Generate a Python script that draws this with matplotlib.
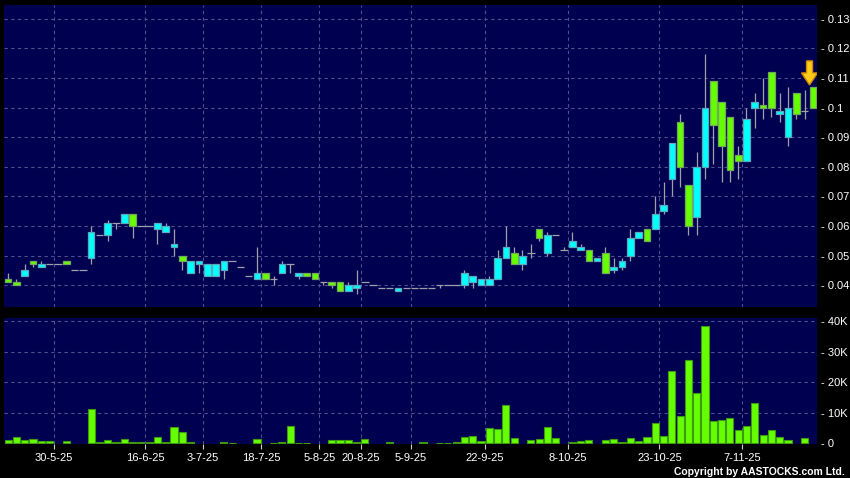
import matplotlib
matplotlib.use("Agg")
import matplotlib.pyplot as plt
import numpy as np
from matplotlib.patches import Polygon

plt.rcParams['font.family'] = ['Liberation Sans', 'DejaVu Sans']

# ---------------- data ----------------
opens = [0.042, 0.041, 0.043, 0.048, 0.046, 0.047, 0.047, 0.048, 0.045, 0.045,
         0.049, 0.057, 0.057, 0.061, 0.061, 0.064, 0.060, 0.060, 0.059, 0.058,
         0.053, 0.050, 0.044, 0.047, 0.043, 0.043, 0.045, 0.048, 0.046, 0.043,
         0.042, 0.044, 0.042, 0.044, 0.047, 0.043, 0.044, 0.044, 0.041, 0.041,
         0.041, 0.038, 0.039, 0.041, 0.040, 0.039, 0.039, 0.038, 0.039, 0.039,
         0.039, 0.039, 0.040, 0.040, 0.040, 0.040, 0.041, 0.040, 0.040, 0.042,
         0.049, 0.051, 0.047, 0.051, 0.059, 0.051, 0.057, 0.052, 0.053, 0.052,
         0.052, 0.048, 0.051, 0.045, 0.046, 0.050, 0.056, 0.059, 0.059, 0.065,
         0.076, 0.095, 0.074, 0.063, 0.080, 0.109, 0.102, 0.097, 0.084, 0.082,
         0.100, 0.101, 0.112, 0.098, 0.090, 0.105, 0.099, 0.107]
highs = [0.044, 0.042, 0.047, 0.048, 0.048, 0.047, 0.047, 0.048, 0.045, 0.045,
         0.060, 0.057, 0.062, 0.061, 0.064, 0.064, 0.060, 0.060, 0.061, 0.061,
         0.059, 0.050, 0.048, 0.048, 0.047, 0.047, 0.048, 0.048, 0.046, 0.043,
         0.053, 0.044, 0.043, 0.048, 0.047, 0.044, 0.044, 0.044, 0.041, 0.041,
         0.041, 0.041, 0.045, 0.041, 0.040, 0.039, 0.039, 0.039, 0.039, 0.039,
         0.039, 0.039, 0.040, 0.040, 0.040, 0.045, 0.043, 0.042, 0.043, 0.052,
         0.060, 0.053, 0.052, 0.054, 0.059, 0.058, 0.057, 0.053, 0.058, 0.054,
         0.052, 0.049, 0.053, 0.049, 0.049, 0.059, 0.058, 0.059, 0.070, 0.075,
         0.088, 0.098, 0.074, 0.085, 0.118, 0.109, 0.102, 0.097, 0.087, 0.100,
         0.105, 0.110, 0.112, 0.105, 0.107, 0.105, 0.106, 0.107]
lows = [0.041, 0.040, 0.043, 0.046, 0.046, 0.047, 0.047, 0.047, 0.045, 0.045,
        0.047, 0.057, 0.055, 0.059, 0.061, 0.056, 0.060, 0.060, 0.054, 0.058,
        0.050, 0.045, 0.044, 0.044, 0.043, 0.043, 0.042, 0.048, 0.046, 0.043,
        0.042, 0.042, 0.040, 0.044, 0.044, 0.042, 0.043, 0.042, 0.040, 0.039,
        0.038, 0.038, 0.037, 0.041, 0.040, 0.039, 0.039, 0.038, 0.039, 0.039,
        0.039, 0.039, 0.039, 0.040, 0.040, 0.039, 0.039, 0.040, 0.040, 0.042,
        0.049, 0.047, 0.045, 0.049, 0.055, 0.050, 0.057, 0.052, 0.053, 0.052,
        0.048, 0.048, 0.044, 0.044, 0.045, 0.048, 0.056, 0.055, 0.059, 0.064,
        0.070, 0.073, 0.057, 0.057, 0.076, 0.081, 0.075, 0.075, 0.076, 0.082,
        0.093, 0.096, 0.097, 0.095, 0.087, 0.096, 0.096, 0.100]
closes = [0.041, 0.040, 0.045, 0.047, 0.047, 0.047, 0.047, 0.047, 0.045, 0.045,
          0.058, 0.057, 0.061, 0.061, 0.064, 0.060, 0.060, 0.060, 0.061, 0.060,
          0.054, 0.048, 0.048, 0.048, 0.047, 0.047, 0.048, 0.048, 0.046, 0.043,
          0.044, 0.042, 0.042, 0.047, 0.047, 0.044, 0.043, 0.042, 0.041, 0.040,
          0.038, 0.040, 0.040, 0.041, 0.040, 0.039, 0.039, 0.039, 0.039, 0.039,
          0.039, 0.039, 0.040, 0.040, 0.040, 0.044, 0.043, 0.042, 0.042, 0.049,
          0.053, 0.047, 0.050, 0.051, 0.056, 0.057, 0.057, 0.052, 0.055, 0.053,
          0.048, 0.049, 0.044, 0.046, 0.048, 0.056, 0.058, 0.055, 0.064, 0.067,
          0.088, 0.080, 0.060, 0.080, 0.100, 0.094, 0.087, 0.079, 0.082, 0.096,
          0.102, 0.100, 0.100, 0.099, 0.100, 0.098, 0.099, 0.100]
volumes_k = [0.9, 2.1, 1.0, 1.3, 0.65, 0.65, 0, 0.65, 0, 0,
             11.3, 0.3, 1.1, 0.55, 1.4, 0.3, 0.3, 0.3, 2.1, 0.55,
             5.2, 3.6, 0.3, 0, 0, 0, 0.3, 0.2, 0, 0,
             1.4, 0, 0.2, 0.3, 5.7, 0.1, 0.1, 0, 0, 1.0,
             1.0, 1.1, 0.4, 1.5, 0, 0, 0.3, 0, 0, 0,
             0.3, 0, 0.2, 0.2, 0.3, 2.1, 2.4, 0.6, 5.0, 4.8,
             12.5, 1.6, 0, 1.1, 1.5, 5.3, 1.8, 0, 0.3, 0.8,
             1.0, 0, 0.9, 1.5, 0.3, 1.8, 0.6, 2.1, 6.6, 2.4,
             23.6, 9.0, 27.4, 16.6, 38.5, 7.2, 7.5, 8.1, 4.3, 5.7,
             13.2, 2.8, 4.3, 2.0, 1.2, 0, 1.6, 0]
date_labels = ['30-5-25', '16-6-25', '3-7-25', '18-7-25', '5-8-25', '20-8-25',
               '5-9-25', '22-9-25', '8-10-25', '23-10-25', '7-11-25']
date_index = [5, 16, 23, 30, 37, 42, 48, 57, 67, 78, 88]
price_ticks = [0.04, 0.05, 0.06, 0.07, 0.08, 0.09, 0.10, 0.11, 0.12, 0.13]
volume_ticks_k = [0, 10, 20, 30, 40]

# ---------------- style ----------------
BG = '#000050'
GRID = '#50508c'
UP_FILL, UP_EDGE = '#00ffff', '#5aa8bc'
DN_FILL, DN_EDGE = '#66ff00', '#74a85a'
WICK = '#a0a0aa'
TXT = '#ffffff'

W, H = 850, 478
fig = plt.figure(figsize=(W / 100, H / 100), dpi=100, facecolor='black')
ax1 = fig.add_axes([4 / W, 1 - 306.7 / H, 813 / W, (306.7 - 5) / H])
ax2 = fig.add_axes([4 / W, 1 - 444 / H, 813 / W, (444 - 318.3) / H])

o = np.array(opens); h = np.array(highs); l = np.array(lows); c = np.array(closes)
n = len(o)
x = np.arange(n)

for ax in (ax1, ax2):
    ax.set_facecolor(BG)
    for s in ax.spines.values():
        s.set_visible(False)
    ax.set_xlim(-0.5, n - 0.5)
    for xi in date_index:
        ax.axvline(xi + 0.5, color=GRID, lw=0.8, ls=(0, (3, 3)), zorder=0)

# price grid
for p in price_ticks:
    ax1.axhline(p, color=GRID, lw=0.8, ls=(0, (3, 3)), zorder=0)
ax1.set_ylim(0.0327, 0.1347)

# wicks
wick_mask = h > l
ax1.vlines(x[wick_mask], l[wick_mask], h[wick_mask], color=WICK, lw=0.9, zorder=2)

# bodies
up = c > o
dn = c < o
flat = c == o
bw = 0.8
ax1.bar(x[up], (c - o)[up], bottom=o[up], width=bw, color=UP_FILL,
        edgecolor=UP_EDGE, linewidth=0.9, zorder=3)
ax1.bar(x[dn], (o - c)[dn], bottom=c[dn], width=bw, color=DN_FILL,
        edgecolor=DN_EDGE, linewidth=0.9, zorder=3)
ax1.hlines(c[flat], x[flat] - 0.45, x[flat] + 0.45, color=WICK, lw=0.9, zorder=3)

# arrow over the last candle
px_x = 1 / 8.3      # one pixel in index units
px_y = 1 / 2957.0   # one pixel in price units
xa = x[-1] - 0.4
tip = h[-1] + 2 * px_y
head = tip + 12 * px_y
top = head + 12 * px_y
arrow = Polygon([[xa - 3 * px_x, top], [xa + 3 * px_x, top], [xa + 3 * px_x, head],
                 [xa + 8 * px_x, head], [xa, tip], [xa - 8 * px_x, head],
                 [xa - 3 * px_x, head]], closed=True,
                facecolor='#ffcc1a', edgecolor='#d08a00', lw=1.0, zorder=5)
ax1.add_patch(arrow)

ax1.yaxis.tick_right()
ax1.set_yticks(price_ticks)
ax1.set_yticklabels(['- %g' % p for p in price_ticks])
ax1.tick_params(axis='y', length=0, pad=3, labelsize=8, colors=TXT)
ax1.set_xticks([])

# volume
v = np.array(volumes_k)
vm = v > 0
for t in volume_ticks_k[1:]:
    ax2.axhline(t, color=GRID, lw=0.8, ls=(0, (3, 3)), zorder=0)
ax2.bar(x[vm], v[vm], width=0.86, color='#66ff00', edgecolor='#3d9a10',
        linewidth=0.8, zorder=3)
ax2.set_ylim(-0.25, 40.9)
ax2.yaxis.tick_right()
ax2.set_yticks(volume_ticks_k)
ax2.set_yticklabels(['- %dK' % t if t else '- 0' for t in volume_ticks_k])
ax2.tick_params(axis='y', length=0, pad=3, labelsize=8, colors=TXT)
ax2.set_xticks([i + 0.5 for i in date_index])
ax2.set_xticklabels(date_labels)
ax2.tick_params(axis='x', length=3.5, width=0.8, pad=3, labelsize=8,
                colors='#cccccc', labelcolor=TXT, direction='out')

fig.text(845 / W, 1 - 472 / H, 'Copyright by AASTOCKS.com Ltd.', color=TXT,
         fontsize=7.5, fontweight='bold', ha='right', va='center')

fig.savefig('out.png', dpi=100, facecolor='black')
